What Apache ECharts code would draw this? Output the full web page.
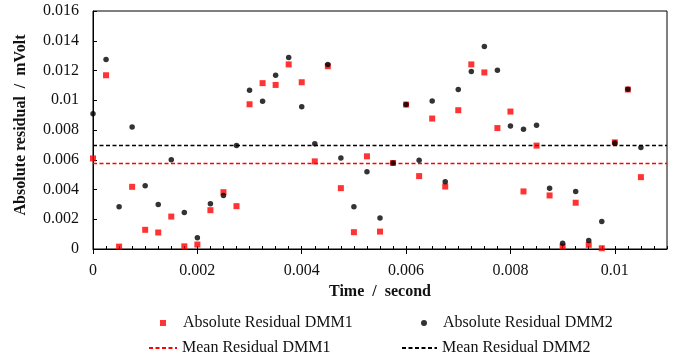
<!DOCTYPE html>
<html>
<head>
<meta charset="utf-8">
<script src="https://cdn.jsdelivr.net/npm/echarts@6/dist/echarts.min.js"></script>
<style>html,body{margin:0;padding:0;background:#fff}#c{width:675px;height:362px}</style>
</head>
<body>
<div id="c"></div>
<script>
// Time (second)
var times = [0,0.00025,0.0005,0.00075,0.001,0.00125,0.0015,0.00175,0.002,0.00225,0.0025,0.00275,0.003,0.00325,0.0035,0.00375,0.004,0.00425,0.0045,0.00475,0.005,0.00525,0.0055,0.00575,0.006,0.00625,0.0065,0.00675,0.007,0.00725,0.0075,0.00775,0.008,0.00825,0.0085,0.00875,0.009,0.00925,0.0095,0.00975,0.01,0.01025,0.0105];
// Absolute residual (mVolt)
var dmm1 = [0.00609,0.01168,0.00016,0.00418,0.00129,0.00111,0.00218,0.00018,0.00030,0.00261,0.00382,0.00288,0.00973,0.01115,0.01103,0.01241,0.01121,0.00589,0.01229,0.00409,0.00113,0.00623,0.00117,0.00578,0.00971,0.00490,0.00877,0.00420,0.00933,0.01241,0.01187,0.00813,0.00924,0.00387,0.00695,0.00360,0.00016,0.00311,0.00028,0.00005,0.00717,0.01072,0.00483];
var dmm2 = [0.00910,0.01274,0.00284,0.00820,0.00425,0.00299,0.00600,0.00245,0.00075,0.00304,0.00360,0.00695,0.01067,0.00993,0.01168,0.01288,0.00957,0.00708,0.01241,0.00611,0.00284,0.00519,0.00209,0.00578,0.00971,0.00596,0.00995,0.00452,0.01072,0.01193,0.01362,0.01202,0.00827,0.00805,0.00832,0.00409,0.00038,0.00387,0.00057,0.00185,0.00712,0.01074,0.00683];
var mean1 = 0.00575;
var mean2 = 0.00695;
var xTicks = [0,0.002,0.004,0.006,0.008,0.01];
var xRange = [0, 0.011];

var names = ['Absolute Residual DMM1','Absolute Residual DMM2','Mean Residual DMM1','Mean Residual DMM2'];
function pairs(xs, ys){ return xs.map(function(x,i){ return [x, ys[i]]; }); }

var font = 'Liberation Serif';
var txt = {fontFamily: font, fontSize: 16, color: '#111'};
function legend(name, left, top, w, h, padLeft, hideSymbol){
  var l = {data:[name], left:left, top:top, padding:0, itemWidth:w, itemHeight:h,
    selectedMode:false, textStyle:Object.assign({padding:[0,0,0,padLeft]}, txt)};
  if (hideSymbol) l.itemStyle = {opacity:0};
  return l;
}

var chart = echarts.init(document.getElementById('c'));
chart.setOption({
  animation:false,
  backgroundColor:'#fff',
  grid:{left:93, right:8, top:11, bottom:113, show:true, borderColor:'#000', borderWidth:1, backgroundColor:'transparent'},
  legend:[
    legend(names[0], 160, 315, 6, 6, 12, false),
    legend(names[1], 421, 315, 6, 6, 11, false),
    legend(names[2], 148, 340, 28, 6, 0, true),
    legend(names[3], 401, 340, 35, 6, 0, true)
  ],
  xAxis:[{
    type:'value', min:xRange[0], max:xRange[1], interval:0.002,
    name:'Time  /  second', nameLocation:'middle', nameGap:35,
    nameTextStyle:{fontFamily:font, fontSize:16, fontWeight:'bold', color:'#111'},
    axisLine:{lineStyle:{color:'#000', width:1}},
    axisTick:{show:true, inside:false, length:5, lineStyle:{color:'#000'}, customValues:xTicks},
    axisLabel:Object.assign({margin:14, customValues:xTicks}, txt),
    splitLine:{show:false}
  },{
    type:'value', min:xRange[0], max:xRange[1], interval:0.00025, position:'bottom',
    axisLine:{show:false},
    axisTick:{show:true, inside:true, length:3, lineStyle:{color:'#000'}},
    axisLabel:{show:false}, splitLine:{show:false}
  }],
  yAxis:{
    type:'value', min:0, max:0.016, interval:0.002,
    name:'Absolute residual  /  mVolt', nameLocation:'middle', nameGap:64,
    nameTextStyle:{fontFamily:font, fontSize:16, fontWeight:'bold', color:'#111', padding:[0,0,0,10]},
    axisLine:{show:true, lineStyle:{color:'#000', width:1}},
    axisTick:{show:true, inside:true, length:4, lineStyle:{color:'#000'}},
    axisLabel:Object.assign({margin:14}, txt),
    splitLine:{show:false}
  },
  series:[
    {name:names[0], type:'scatter', symbol:'rect', symbolSize:6, itemStyle:{color:'#ff0000'}, data:pairs(times, dmm1)},
    {name:names[1], type:'scatter', symbol:'circle', symbolSize:5.5, itemStyle:{color:'#000'}, data:pairs(times, dmm2)},
    {name:names[2], type:'line', symbol:'none', lineStyle:{color:'#ff0000', width:1.5, type:[4,2.5]}, itemStyle:{color:'#ff0000'},
      data:[[xRange[0], mean1],[xRange[1], mean1]], z:1},
    {name:names[3], type:'line', symbol:'none', lineStyle:{color:'#000', width:1.5, type:[4,2.5]}, itemStyle:{color:'#000'},
      data:[[xRange[0], mean2],[xRange[1], mean2]], z:1}
  ]
});
</script>
</body>
</html>
